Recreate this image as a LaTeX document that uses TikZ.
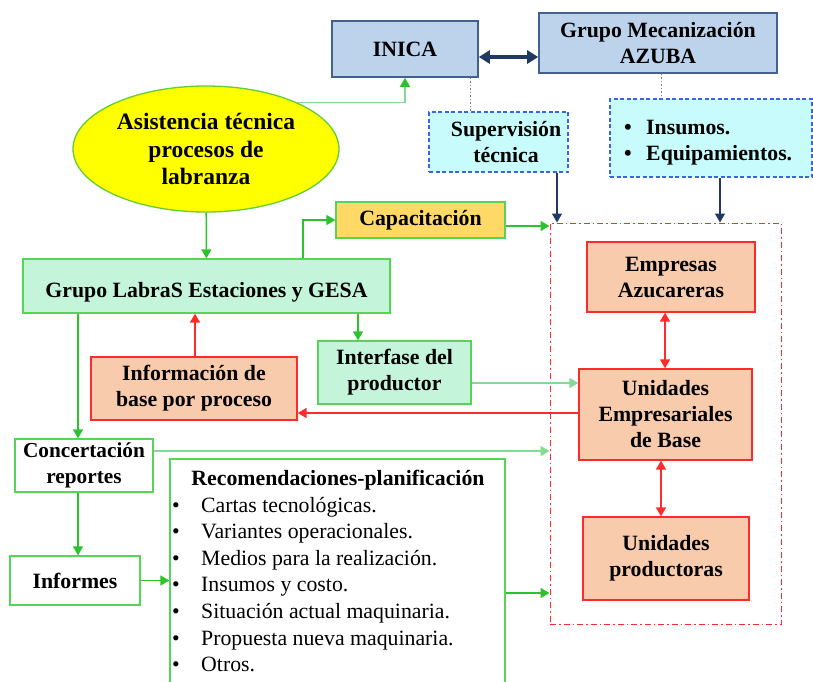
\documentclass[tikz,border=0pt]{standalone}
\usepackage{fontspec}
\setmainfont{Liberation Serif}
\usetikzlibrary{arrows.meta,shapes.geometric}
\definecolor{bluefill}{HTML}{BCD3EB}
\definecolor{blueedge}{HTML}{41618F}
\definecolor{navy}{HTML}{1F3864}
\definecolor{cyanfill}{HTML}{C8FCFC}
\definecolor{dashblue}{HTML}{3B63E6}
\definecolor{brightgreen}{HTML}{2CC22C}
\definecolor{palegreen}{HTML}{84D994}
\definecolor{mint}{HTML}{C4F5DA}
\definecolor{boxgreen}{HTML}{55D455}
\definecolor{orangefill}{HTML}{FFD966}
\definecolor{salmon}{HTML}{F8CBAD}
\definecolor{redline}{HTML}{FF2A2A}
\definecolor{ellyellow}{HTML}{FFFF00}
\definecolor{ellgreen}{HTML}{66CC33}
\tikzset{
  base/.style={inner sep=0pt, align=center, font=\bfseries\fontsize{21.8}{26}\selectfont, line width=1.3pt},
  bluebox/.style={base, draw=blueedge, fill=bluefill, line width=1.6pt},
  cyanbox/.style={base, draw=dashblue, fill=cyanfill, dash pattern=on 4pt off 2.5pt},
  greenbox/.style={base, draw=boxgreen, fill=mint},
  whitebox/.style={base, draw=boxgreen, fill=white},
  salmonbox/.style={base, draw=redline, fill=salmon},
  garr/.style={draw=brightgreen, line width=1.5pt, -{Triangle[length=9pt,width=10pt]}},
  parr/.style={draw=palegreen, line width=1.5pt, -{Triangle[length=9pt,width=10pt,color=palegreen]}},
  rarr/.style={draw=redline, line width=1.5pt, -{Triangle[length=9pt,width=10pt]}},
  rdarr/.style={draw=redline, line width=1.5pt, {Triangle[length=9pt,width=10pt]}-{Triangle[length=9pt,width=10pt]}},
  narr/.style={draw=navy, line width=1.5pt, -{Triangle[length=9pt,width=10pt]}},
  ndarr/.style={draw=navy, line width=3.2pt, {Triangle[length=11pt,width=13pt]}-{Triangle[length=11pt,width=13pt]}},
  dotline/.style={draw=gray, line width=0.8pt, dash pattern=on 1.5pt off 2pt},
  item/.style={inner sep=0pt, anchor=base west, font=\fontsize{21.8}{26}\selectfont},
  bitem/.style={item, font=\bfseries\fontsize{21.8}{26}\selectfont}
}
\begin{document}
\begin{tikzpicture}[x=1pt,y=-1pt]
\path[use as bounding box] (0,0) rectangle (813,681);
\clip (0,0) rectangle (813,681);
\fill[white] (0,0) rectangle (813,681);

% coordinates
\coordinate (c470) at (470,0);
\coordinate (c661) at (661,0);
\coordinate (c557) at (557,0);
\coordinate (c720) at (720,0);
\coordinate (c303) at (303,0);
\coordinate (c78) at (78,0);
\coordinate (c195) at (195,0);
\coordinate (c358) at (358,0);
\coordinate (c665) at (665,0);
\coordinate (y57) at (0,57);
\coordinate (y226) at (0,226);
\coordinate (y383) at (0,383);
\coordinate (y413) at (0,413);
\coordinate (y451) at (0,451);
\coordinate (y593) at (0,593);

% nodes
\node[bluebox, minimum width=146pt, minimum height=56pt] (inica) at (405,49) {INICA};
\node[bluebox, minimum width=238pt, minimum height=60pt] (gm) at (658,43) {Grupo Mecanización\\AZUBA};
\node[cyanbox, minimum width=139pt, minimum height=60pt] (sup) at (498.5,142) {};
\node[base] (suptext) at (506,142) {Supervisión\\técnica};
\node[cyanbox, minimum width=202pt, minimum height=78pt] (ins) at (711,138) {};
\node[bitem] (b1) at (624,134) {•};
\node[bitem] (i1) at (646,134) {Insumos.};
\node[bitem] (b2) at (624,160) {•};
\node[bitem] (i2) at (646,160) {Equipamientos.};

\node[ellipse, draw=ellgreen, fill=ellyellow, line width=1.3pt, minimum width=266pt, minimum height=126pt, inner sep=0pt, align=center, font=\bfseries\fontsize{23.5}{27.5}\selectfont] (ell) at (206,149) {Asistencia técnica\\procesos de\\labranza};

\node[greenbox, minimum width=367pt, minimum height=54pt] (grupo) at (206.5,286) {};
\node[base] (grupotext) at (206.5,292) {Grupo LabraS Estaciones y GESA};
\node[base, draw=boxgreen, fill=orangefill, minimum width=169pt, minimum height=36pt] (cap) at (420.5,220) {Capacitación};
\node[salmonbox, minimum width=206pt, minimum height=63pt] (info) at (194,388.5) {Información de\\base por proceso};
\node[greenbox, minimum width=153pt, minimum height=63pt] (inter) at (394.5,372.5) {Interfase del\\productor};
\node[whitebox, minimum width=138pt, minimum height=53pt, font=\bfseries\fontsize{21.3}{26}\selectfont] (conc) at (84,465.5) {Concertación\\reportes};
\node[whitebox, minimum width=130pt, minimum height=49pt] (inf) at (75,580.5) {Informes};
\node[whitebox, minimum width=335pt, minimum height=260pt] (rec) at (337.5,589) {};
\node[base] (rectitle) at (338,480) {Recomendaciones-planificación};
\foreach \t [count=\i from 0] in {Cartas tecnológicas., Variantes operacionales., Medios para la realización., Insumos y costo., Situación actual maquinaria., Propuesta nueva maquinaria., Otros.} {
  \node[item] (rb\i) at (172,512+26.6*\i) {•};
  \node[item] (rt\i) at (201,512+26.6*\i) {\t};
}

\node[draw=redline, line width=1pt, dash pattern=on 6pt off 3pt on 1.5pt off 3pt, minimum width=231pt, minimum height=401pt, inner sep=0pt] (dbox) at (665.5,423.5) {};
\node[salmonbox, minimum width=168pt, minimum height=70pt] (emp) at (671,277) {Empresas\\Azucareras};
\node[salmonbox, minimum width=173pt, minimum height=91pt] (ueb) at (665.5,414.5) {Unidades\\Empresariales\\de Base};
\node[salmonbox, minimum width=166pt, minimum height=83pt] (up) at (666,558.5) {Unidades\\productoras};

% connectors
\draw[ndarr] (inica.east |- y57) -- (gm.west |- y57);
\draw[dotline] (inica.south -| c470) -- (sup.north -| c470);
\draw[dotline] (gm.south -| c661) -- (ins.north -| c661);
\draw[narr] (sup.south -| c557) -- (dbox.north -| c557);
\draw[narr] (ins.south -| c720) -- (dbox.north -| c720);
\draw[parr, -{Triangle[length=9pt,width=10pt,color=brightgreen]}] (ell.27) -| (inica);
\draw[garr] (ell) -- (grupo);
\draw[garr] (grupo.north -| c303) |- (cap.west);
\draw[garr] (cap.east |- y226) -- (dbox.west |- y226);
\draw[rarr] (info.north -| c195) -- (grupo.south -| c195);
\draw[garr] (grupo.south -| c358) -- (inter.north -| c358);
\draw[garr] (grupo.south -| c78) -- (conc.north -| c78);
\draw[parr] (inter.east |- y383) -- (ueb.west |- y383);
\draw[rarr] (ueb.west |- y413) -- (info.east |- y413);
\draw[parr] (conc.east |- y451) -- (dbox.west |- y451);
\draw[garr] (conc.south -| c78) -- (inf.north -| c78);
\draw[garr] (inf.east) -- (rec.west |- inf.east);
\draw[garr] (rec.east |- y593) -- (dbox.west |- y593);
\draw[rdarr] (emp.south -| c665) -- (ueb.north -| c665);
\draw[rdarr] (ueb.south -| c661) -- (up.north -| c661);
\end{tikzpicture}
\end{document}
